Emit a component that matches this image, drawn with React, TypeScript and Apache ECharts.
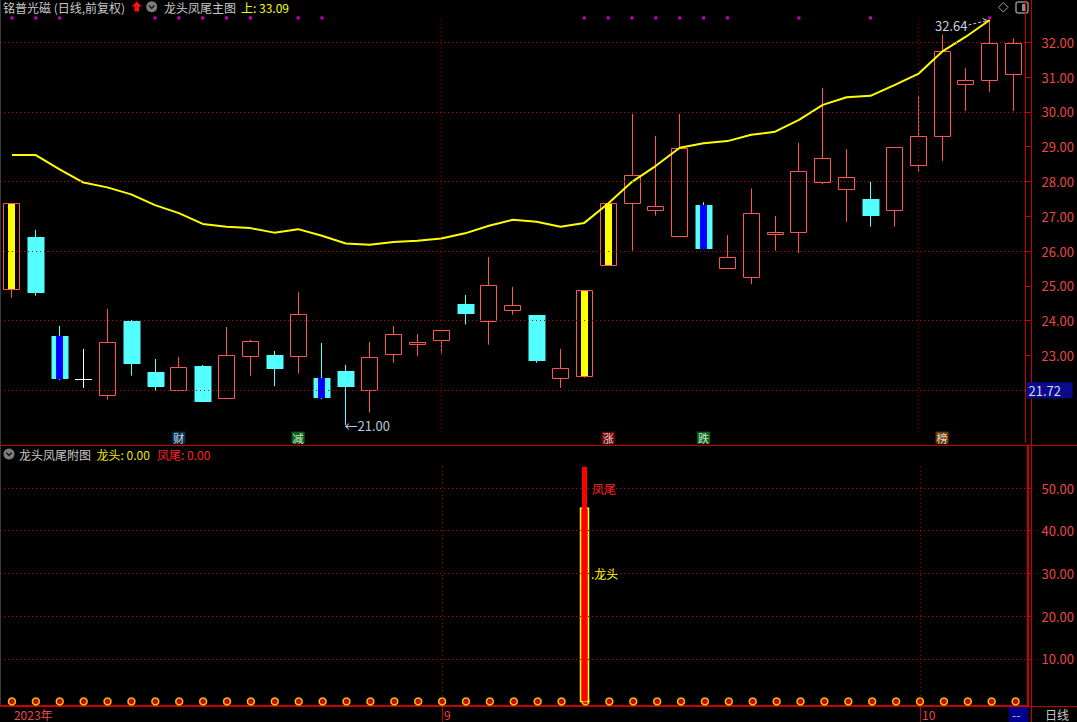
import { useEffect, useRef } from 'react';
import * as echarts from 'echarts';

const FONT = '"Noto Sans CJK SC", "Noto Sans", sans-serif';

// ---------- data ----------
const tradingDays = [
  '2023-08-08', '2023-08-09', '2023-08-10', '2023-08-11', '2023-08-14', '2023-08-15', '2023-08-16', '2023-08-17', '2023-08-18',
  '2023-08-21', '2023-08-22', '2023-08-23', '2023-08-24', '2023-08-25', '2023-08-28', '2023-08-29', '2023-08-30', '2023-08-31',
  '2023-09-01', '2023-09-04', '2023-09-05', '2023-09-06', '2023-09-07', '2023-09-08', '2023-09-11', '2023-09-12', '2023-09-13',
  '2023-09-14', '2023-09-15', '2023-09-18', '2023-09-19', '2023-09-20', '2023-09-21', '2023-09-22', '2023-09-25', '2023-09-26',
  '2023-09-27', '2023-09-28', '2023-10-09', '2023-10-10', '2023-10-11', '2023-10-12', '2023-10-13',
];

const openPrices = [
  24.90, 26.41, 23.56, 22.32, 21.86, 23.99, 22.53, 22.02, 22.70, 21.79,
  22.99, 23.01, 22.99, 22.35, 22.55, 22.00, 23.03, 23.32, 23.44, 24.48,
  23.98, 24.30, 24.16, 22.34, 22.40, 25.59, 27.37, 27.19, 26.43, 27.32,
  25.51, 25.25, 26.48, 26.54, 27.99, 27.78, 27.50, 27.17, 28.47, 29.30,
  30.79, 30.91, 31.08,
];
const closePrices = [
  27.37, 24.80, 22.33, 22.32, 23.38, 22.76, 22.10, 22.66, 21.67, 23.01,
  23.41, 22.61, 24.18, 21.79, 22.10, 22.95, 23.61, 23.38, 23.72, 24.20,
  25.02, 24.44, 22.85, 22.63, 24.88, 27.37, 28.18, 27.29, 28.95, 26.06,
  25.82, 27.09, 26.54, 28.29, 28.67, 28.12, 27.02, 28.99, 29.30, 31.74,
  30.92, 31.97, 31.97,
];
const highPrices = [
  27.37, 26.61, 23.85, 23.19, 24.34, 24.02, 22.90, 22.96, 22.73, 23.82,
  23.45, 23.13, 24.82, 23.36, 22.73, 23.39, 23.85, 23.62, 23.72, 24.74,
  25.83, 24.97, 24.16, 23.19, 24.88, 27.37, 29.94, 29.31, 29.94, 27.41,
  26.46, 27.80, 27.01, 29.11, 30.69, 28.93, 27.99, 28.99, 30.46, 32.22,
  31.26, 32.64, 32.11,
];
const lowPrices = [
  24.66, 24.72, 22.30, 22.07, 21.73, 22.42, 21.99, 22.02, 21.67, 21.79,
  22.42, 22.12, 22.48, 21.75, 21.00, 21.36, 22.79, 22.99, 23.05, 23.89,
  23.31, 24.17, 22.79, 22.07, 22.36, 25.59, 26.01, 27.02, 26.43, 26.06,
  25.51, 25.05, 26.01, 25.94, 27.92, 26.84, 26.70, 26.70, 28.30, 28.59,
  30.03, 30.58, 30.03,
];
const trendLine = [
  28.76, 28.76, 28.35, 27.97, 27.83, 27.63, 27.32, 27.09, 26.78, 26.70,
  26.66, 26.53, 26.63, 26.44, 26.22, 26.18, 26.26, 26.30, 26.36, 26.51,
  26.73, 26.90, 26.84, 26.70, 26.81, 27.37, 27.99, 28.45, 28.97, 29.10,
  29.16, 29.34, 29.43, 29.77, 30.20, 30.42, 30.46, 30.77, 31.09, 31.73,
  32.16, 32.64, null,
];
const yellowBodyDays = [0, 24, 25];
const blueBodyDays = [2, 13, 29];
const magentaDays = [0, 1, 2, 6, 7, 8, 9, 10, 12, 13, 24, 25, 26, 27, 28, 29, 30, 33, 36, 41];
const tagDays = [7, 12, 25, 29, 39];
const tagTexts = ['财', '减', '涨', '跌', '榜'];
const tagColors = ['#0b3f72', '#0a7d1c', '#8c0a0a', '#0a7d1c', '#8a4a06'];

const dragonHead = [
  0, 0, 0, 0, 0, 0, 0, 0, 0, 0,
  0, 0, 0, 0, 0, 0, 0, 0, 0, 0,
  0, 0, 0, 0, 45.3, 0, 0, 0, 0, 0,
  0, 0, 0, 0, 0, 0, 0, 0, 0, 0,
  0, 0, 0,
];
const phoenixTail = [
  0, 0, 0, 0, 0, 0, 0, 0, 0, 0,
  0, 0, 0, 0, 0, 0, 0, 0, 0, 0,
  0, 0, 0, 0, 55, 0, 0, 0, 0, 0,
  0, 0, 0, 0, 0, 0, 0, 0, 0, 0,
  0, 0, 0,
];

const priceTickValues = [23, 24, 25, 26, 27, 28, 29, 30, 31, 32];
const priceGridValues = [22, 24, 26, 28, 30, 32];
const cursorLevel = 22;
const cursorText = '21.72';
const subTickValues = [10, 20, 30, 40, 50];
const upperBandText = '33.09';

// ---------- style constants ----------
const RED_UP = '#ff5454';
const CYAN = '#54ffff';
const GRID_RED = '#c40000';
const AXIS_RED = '#c80000';
const LABEL_RED = '#e84848';
const MARK_ROW_PRICE = 32.7;
const TAG_ROW_PRICE = 20.64;
const VLINE_TOP = 32.65;
const VLINE_BOTTOM = 20.8;
const SUB_VLINE_TOP = 55;
const SUB_VLINE_BOTTOM = 0.3;
const PHOENIX_LABEL_LEVEL = 50;
const DRAGON_LABEL_LEVEL = 30;

const monthStarts = tradingDays
  .map((d, i) => (i > 0 && d.slice(5, 7) !== tradingDays[i - 1].slice(5, 7) ? i : -1))
  .filter((i) => i >= 0);
const labelDays = [0, ...monthStarts];

const minLowIdx = lowPrices.indexOf(Math.min(...lowPrices));
const maxHighIdx = highPrices.indexOf(Math.max(...highPrices));

function txt(text: string, x: number, y: number, fill: string, size = 12, align = 'left') {
  return {
    type: 'text',
    x,
    y,
    silent: true,
    style: {
      text,
      fill,
      font: `${size}px ${FONT}`,
      align,
      textAlign: align,
      verticalAlign: 'middle',
      textVerticalAlign: 'middle',
    },
  };
}

function renderCandle(_params: any, api: any) {
  const i = api.value(0) as number;
  const o = api.value(1) as number;
  const c = api.value(2) as number;
  const l = api.value(3) as number;
  const h = api.value(4) as number;
  const [xc, yo] = api.coord([i, o]);
  const yc = api.coord([i, c])[1];
  const yl = api.coord([i, l])[1];
  const yh = api.coord([i, h])[1];
  const xr = Math.floor(xc);
  const xm = xr + 0.5;
  const top = Math.round(Math.min(yo, yc));
  const bot = Math.round(Math.max(yo, yc));
  const children: any[] = [];
  const line = (y1: number, y2: number, stroke: string) => ({
    type: 'line',
    shape: { x1: xm, y1, x2: xm, y2 },
    style: { stroke, lineWidth: 1 },
  });
  if (o === c) {
    children.push(line(yh, yl, '#ffffff'));
    children.push({
      type: 'line',
      shape: { x1: xr - 8, y1: Math.round(yo) + 0.5, x2: xr + 9, y2: Math.round(yo) + 0.5 },
      style: { stroke: '#ffffff', lineWidth: 1 },
    });
  } else if (c > o) {
    if (yh < top) children.push(line(yh, top, RED_UP));
    if (yl > bot) children.push(line(bot, yl, RED_UP));
    children.push({
      type: 'rect',
      shape: { x: xr - 7.5, y: top + 0.5, width: 16, height: Math.max(1, bot - top) },
      style: { fill: '#000000', stroke: RED_UP, lineWidth: 1 },
    });
    if (yellowBodyDays.includes(i)) {
      children.push({
        type: 'rect',
        shape: { x: xr - 3, y: top + 1, width: 7, height: Math.max(1, bot - top - 1) },
        style: { fill: '#ffff00' },
      });
    }
  } else {
    children.push(line(yh, yl, CYAN));
    children.push({
      type: 'rect',
      shape: { x: xr - 7.5, y: top, width: 17, height: Math.max(1, bot - top) },
      style: { fill: CYAN },
    });
    if (blueBodyDays.includes(i)) {
      children.push({
        type: 'rect',
        shape: { x: xr - 3, y: top, width: 7, height: Math.max(1, bot - top) },
        style: { fill: '#0000ff' },
      });
    }
  }
  if (i === minLowIdx) {
    children.push(txt('←' + l.toFixed(2), xm - 1, yl, '#b8c8dc', 13));
  }
  if (i === maxHighIdx) {
    children.push(txt(h.toFixed(2), xm - 22, yh + 6, '#c8d0e0', 13, 'right'));
    children.push({
      type: 'line',
      shape: { x1: xm - 21, y1: yh + 5, x2: xm - 2, y2: yh + 0.5 },
      style: { stroke: '#c8d0e0', lineWidth: 1, lineDash: [3, 2] },
    });
    children.push({
      type: 'polyline',
      shape: { points: [[xm - 7, yh - 1.5], [xm - 2, yh + 0.5], [xm - 6, yh + 4]] },
      style: { stroke: '#c8d0e0', lineWidth: 1, fill: 'none' },
    });
  }
  return { type: 'group', children };
}

function renderSignal(_params: any, api: any) {
  const i = api.value(0) as number;
  const dh = api.value(1) as number;
  const pt = api.value(2) as number;
  const children: any[] = [];
  if (dh > 0 || pt > 0) {
    const [xc, y0] = api.coord([i, 0]);
    const xr = Math.floor(xc) - 1;
    if (dh > 0) {
      const y = api.coord([i, dh])[1];
      children.push({
        type: 'rect',
        shape: { x: xr - 3.5, y, width: 8, height: y0 - y },
        style: { fill: '#ff0000', stroke: '#ffff00', lineWidth: 1.5 },
      });
    }
    if (pt > 0) {
      const y = api.coord([i, pt])[1];
      children.push({
        type: 'rect',
        shape: { x: xr - 2, y, width: 5, height: y0 - y },
        style: { fill: '#ff0000' },
      });
      children.push(txt('凤尾', xr + 8, api.coord([i, PHOENIX_LABEL_LEVEL])[1], '#ff2020', 12));
    }
    if (dh > 0) {
      children.push(txt('.龙头', xr + 7, api.coord([i, DRAGON_LABEL_LEVEL])[1], '#ffff00', 12));
    }
  }
  return { type: 'group', children };
}

function dotted(color: string) {
  return { color, width: 1, type: [1, 3] as any };
}

function buildOption(): any {
  const lastHead = dragonHead[dragonHead.length - 1].toFixed(2);
  const lastTail = phoenixTail[phoenixTail.length - 1].toFixed(2);
  return {
    backgroundColor: '#000000',
    animation: false,
    textStyle: { fontFamily: FONT },
    grid: [
      { left: -2, right: 46, top: 0.5, height: 442 },
      { left: -2, right: 46, top: 445.4, height: 260.3 },
    ],
    xAxis: [
      { type: 'category', gridIndex: 0, data: tradingDays, show: false },
      {
        type: 'category',
        gridIndex: 1,
        data: tradingDays,
        axisLine: { show: true, onZero: false, lineStyle: { color: AXIS_RED, width: 1 } },
        axisTick: {
          show: true,
          alignWithLabel: true,
          interval: (idx: number) => monthStarts.includes(idx),
          length: 16,
          lineStyle: { color: AXIS_RED },
        },
        axisLabel: {
          show: true,
          interval: (idx: number) => labelDays.includes(idx),
          formatter: (v: string, idx: number) =>
            idx === 0 ? v.slice(0, 4) + '年' : String(Number(v.slice(5, 7))),
          color: LABEL_RED,
          fontSize: 12,
          lineHeight: 12,
          fontFamily: FONT,
          align: 'left',
          margin: 3,
          padding: [0, 0, 0, 2],
        },
        splitLine: { show: false },
      },
    ],
    yAxis: [
      {
        type: 'value',
        gridIndex: 0,
        position: 'right',
        min: 20.5,
        max: 33.2,
        splitLine: { show: false },
        axisLine: { show: true, lineStyle: { color: AXIS_RED, width: 1 } },
        axisTick: { show: true, length: 5, customValues: priceTickValues, lineStyle: { color: AXIS_RED } },
        axisLabel: {
          show: true,
          customValues: [cursorLevel, ...priceTickValues],
          margin: 1,
          formatter: (v: number) => (v === cursorLevel ? `{b|${cursorText}}` : `{n|${v.toFixed(2)}}`),
          rich: {
            n: { color: LABEL_RED, fontSize: 13, fontFamily: FONT, padding: [0, 0, 0, 15] },
            b: {
              color: '#d8dcff',
              backgroundColor: '#0a0a8a',
              fontSize: 13,
              fontFamily: FONT,
              width: 44,
              height: 15,
              padding: [1, 0, 0, 2],
            },
          },
        },
      },
      {
        type: 'value',
        gridIndex: 1,
        position: 'right',
        min: -1,
        max: 60,
        splitLine: { show: false },
        axisLine: { show: true, lineStyle: { color: AXIS_RED, width: 2 } },
        axisTick: { show: true, length: 5, customValues: subTickValues, lineStyle: { color: AXIS_RED } },
        axisLabel: {
          show: true,
          customValues: subTickValues,
          margin: 14,
          color: LABEL_RED,
          fontSize: 13,
          fontFamily: FONT,
          formatter: (v: number) => v.toFixed(2),
        },
      },
    ],
    series: [
      {
        name: 'grid-main',
        type: 'line',
        xAxisIndex: 0,
        yAxisIndex: 0,
        data: [],
        z: 1,
        silent: true,
        markLine: {
          silent: true,
          symbol: ['none', 'none'],
          label: { show: false },
          lineStyle: dotted(GRID_RED),
          emphasis: { disabled: true },
          data: [
            ...priceGridValues.map((v) => ({ yAxis: v })),
            ...monthStarts.map((i) => [
              { coord: [tradingDays[i], VLINE_TOP] },
              { coord: [tradingDays[i], VLINE_BOTTOM] },
            ]),
          ],
        },
      },
      {
        name: 'K线',
        type: 'custom',
        xAxisIndex: 0,
        yAxisIndex: 0,
        z: 3,
        silent: true,
        renderItem: renderCandle,
        encode: { x: 0, y: [1, 2, 3, 4] },
        data: tradingDays.map((_d, i) => [i, openPrices[i], closePrices[i], lowPrices[i], highPrices[i]]),
      },
      {
        name: '上',
        type: 'line',
        xAxisIndex: 0,
        yAxisIndex: 0,
        z: 4,
        silent: true,
        symbol: 'none',
        connectNulls: false,
        lineStyle: { color: '#ffff00', width: 2 },
        data: trendLine,
      },
      {
        name: 'marks',
        type: 'scatter',
        xAxisIndex: 0,
        yAxisIndex: 0,
        z: 5,
        silent: true,
        symbol: 'rect',
        symbolSize: 3,
        itemStyle: { color: '#ff00ff' },
        data: magentaDays.map((i) => [tradingDays[i], MARK_ROW_PRICE]),
      },
      {
        name: 'tags',
        type: 'scatter',
        xAxisIndex: 0,
        yAxisIndex: 0,
        z: 5,
        silent: true,
        symbol: 'rect',
        symbolSize: [13, 12],
        data: tagDays.map((i, k) => ({
          value: [tradingDays[i], TAG_ROW_PRICE],
          itemStyle: { color: tagColors[k] },
          label: {
            show: true,
            position: 'inside',
            formatter: tagTexts[k],
            color: '#ffffff',
            fontSize: 11,
            fontFamily: FONT,
          },
        })),
      },
      {
        name: 'grid-sub',
        type: 'line',
        xAxisIndex: 1,
        yAxisIndex: 1,
        data: [],
        z: 1,
        silent: true,
        markLine: {
          silent: true,
          symbol: ['none', 'none'],
          label: { show: false },
          lineStyle: dotted(GRID_RED),
          emphasis: { disabled: true },
          data: [
            ...subTickValues.map((v) => ({ yAxis: v })),
            ...monthStarts.map((i) => [
              { coord: [tradingDays[i], SUB_VLINE_TOP] },
              { coord: [tradingDays[i], SUB_VLINE_BOTTOM] },
            ]),
          ],
        },
      },
      {
        name: 'base',
        type: 'scatter',
        xAxisIndex: 1,
        yAxisIndex: 1,
        z: 3,
        silent: true,
        symbol: 'circle',
        symbolSize: 7,
        itemStyle: { color: '#ff0000', borderColor: '#ffff00', borderWidth: 1.5 },
        data: tradingDays.map((d) => [d, 0]),
      },
      {
        name: '龙头凤尾',
        type: 'custom',
        xAxisIndex: 1,
        yAxisIndex: 1,
        z: 4,
        silent: true,
        renderItem: renderSignal,
        encode: { x: 0, y: [1, 2] },
        data: tradingDays.map((_d, i) => [i, dragonHead[i], phoenixTail[i]]),
      },
    ],
    graphic: [
      // frame lines
      { type: 'line', silent: true, shape: { x1: 0, y1: 445.5, x2: 1077, y2: 445.5 }, style: { stroke: AXIS_RED, lineWidth: 1 } },
      { type: 'line', silent: true, shape: { x1: 0, y1: 706.5, x2: 1077, y2: 706.5 }, style: { stroke: AXIS_RED, lineWidth: 1 } },
      { type: 'line', silent: true, shape: { x1: 1031.5, y1: 0, x2: 1031.5, y2: 722 }, style: { stroke: AXIS_RED, lineWidth: 1 } },
      { type: 'line', silent: true, shape: { x1: 0.5, y1: 0, x2: 0.5, y2: 706 }, style: { stroke: '#3a3a3a', lineWidth: 1 } },
      // header
      txt('铭普光磁 (日线,前复权)', 3, 7.5, '#c8c8c8'),
      {
        type: 'polygon',
        silent: true,
        shape: { points: [[136.7, 1.5], [131.5, 6.5], [134.5, 6.5], [134.5, 11.5], [139, 11.5], [139, 6.5], [142, 6.5]] },
        style: { fill: '#ff1010' },
      },
      { type: 'circle', silent: true, shape: { cx: 151.7, cy: 6.8, r: 5.5 }, style: { fill: '#7c7c7c' } },
      { type: 'polyline', silent: true, shape: { points: [[149, 5.5], [151.7, 8.2], [154.4, 5.5]] }, style: { stroke: '#1a1a1a', lineWidth: 1.5, fill: 'none' } },
      txt('龙头凤尾主图', 164, 7.5, '#c8c8c8'),
      txt('上: ' + upperBandText, 241, 7.5, '#ffff00'),
      // top right icons
      {
        type: 'polygon',
        silent: true,
        shape: { points: [[1003.3, 2.5], [1008, 7.3], [1003.3, 12], [998.6, 7.3]] },
        style: { fill: 'none', stroke: '#a0a0a0', lineWidth: 1 },
      },
      { type: 'rect', silent: true, shape: { x: 1016, y: 2, width: 12, height: 11, r: 2 }, style: { fill: 'none', stroke: '#8c8c8c', lineWidth: 1.5 } },
      { type: 'rect', silent: true, shape: { x: 1022, y: 4, width: 4, height: 7 }, style: { fill: '#8c8c8c' } },
      // sub header
      { type: 'circle', silent: true, shape: { cx: 9, cy: 454, r: 5.5 }, style: { fill: '#7c7c7c' } },
      { type: 'polyline', silent: true, shape: { points: [[6.3, 452.7], [9, 455.4], [11.7, 452.7]] }, style: { stroke: '#1a1a1a', lineWidth: 1.5, fill: 'none' } },
      txt('龙头凤尾附图', 19, 454, '#c8c8c8'),
      txt('龙头: ' + lastHead, 96.5, 454, '#e8e800'),
      txt('凤尾: ' + lastTail, 157, 454, '#ff2020'),
      // bottom right
      { type: 'rect', silent: true, shape: { x: 1009, y: 707, width: 19, height: 15 }, style: { fill: '#00008c' } },
      txt('--', 1012, 714.5, '#c8c8ff', 12),
      txt('日线', 1045, 714.5, '#c8c8c8', 12),
    ],
  };
}

export default function App() {
  const ref = useRef<HTMLDivElement>(null);
  useEffect(() => {
    document.body.style.margin = '0';
    document.body.style.background = '#000';
    const chart = echarts.init(ref.current!, null, { renderer: 'svg' });
    chart.setOption(buildOption());
    return () => chart.dispose();
  }, []);
  return (
    <div
      ref={ref}
      style={{ position: 'fixed', left: 0, top: 0, width: 1077, height: 722, background: '#000' }}
    />
  );
}
